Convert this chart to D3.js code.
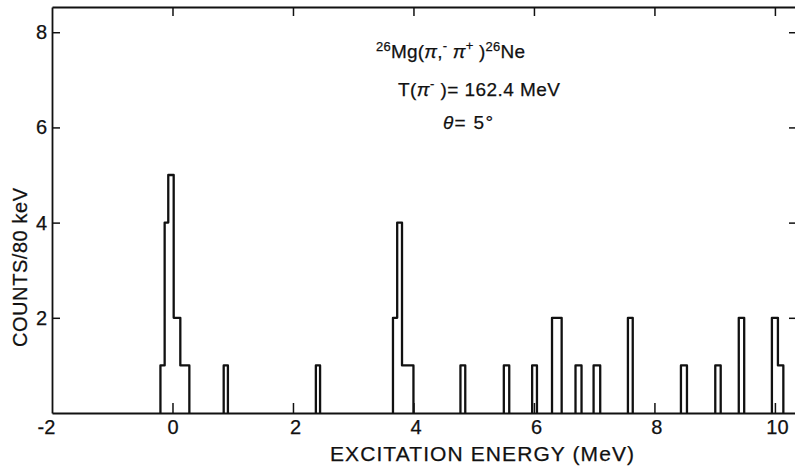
<!DOCTYPE html>
<html>
<head>
<meta charset="utf-8">
<script src="https://cdn.jsdelivr.net/npm/d3@7"></script>
<style>
  body { margin: 0; background: #fff; }
  text { font-family: "Liberation Sans", Arial, Helvetica, sans-serif; fill: #111; stroke: #111; stroke-width: 0.25px; }
</style>
</head>
<body>
<svg id="chart" width="795" height="468"></svg>
<script>
// 26Mg(pi-, pi+)26Ne spectrum: counts per bin, bins given by their edges (MeV)
const binEdges = [
  -0.20, -0.13, -0.07, 0.02, 0.13, 0.28,
  0.85, 0.92,
  2.38, 2.45,
  3.66, 3.73, 3.81, 4.00,
  4.78, 4.86,
  5.50, 5.59,
  5.97, 6.05,
  6.30, 6.46,
  6.69, 6.79,
  6.99, 7.10,
  7.56, 7.64,
  8.44, 8.54,
  9.01, 9.10,
  9.40, 9.49,
  9.95, 10.05, 10.14
];
const binCounts = [
  1, 4, 5, 2, 1, 0,
  1, 0,
  1, 0,
  2, 4, 1, 0,
  1, 0,
  1, 0,
  1, 0,
  2, 0,
  1, 0,
  1, 0,
  2, 0,
  1, 0,
  1, 0,
  2, 0,
  2, 1
];
const xTickValues = [-2, 0, 2, 4, 6, 8, 10];
const xTickLabels = ["-2", "0", "2", "4", "6", "8", "10"];
const yTickValues = [2, 4, 6, 8];
const xTitle = "EXCITATION ENERGY (MeV)";
const yTitle = "COUNTS/80 keV";

const svg = d3.select("#chart");
const x = d3.scaleLinear().domain([-2, 10.35]).range([52, 796]);
const y = d3.scaleLinear().domain([0, 8.53]).range([413, 7]);

// frame axes, ticks pointing inward
const gLeft = svg.append("g").attr("transform", `translate(${x(-2)},0)`)
  .call(d3.axisLeft(y).tickValues(yTickValues).tickSize(-8).tickSizeOuter(0).tickPadding(5));
const gBottom = svg.append("g").attr("transform", `translate(0,${y(0)})`)
  .call(d3.axisBottom(x).tickValues(xTickValues).tickSize(-10).tickSizeOuter(0).tickPadding(7)
    .tickFormat((d, i) => xTickLabels[i]));
const gTop = svg.append("g").attr("transform", `translate(0,${y(8.53)})`)
  .call(d3.axisTop(x).tickValues(xTickValues.slice(1)).tickSize(-9).tickSizeOuter(0).tickFormat(""));
const gRight = svg.append("g").attr("transform", `translate(${x(10.35)},0)`)
  .call(d3.axisRight(y).tickValues(yTickValues).tickSize(-7).tickSizeOuter(0).tickFormat(""));

[gLeft, gBottom, gTop, gRight].forEach(g => {
  g.select(".domain").attr("stroke", "#111").attr("stroke-width", 1.8);
  g.selectAll(".tick line").attr("stroke", "#111").attr("stroke-width", 1.5);
  g.selectAll(".tick text").attr("font-size", 20).attr("font-family", "Liberation Sans, Arial, sans-serif")
    .attr("fill", "#111").attr("stroke", "#111").attr("stroke-width", 0.35);
});
gBottom.selectAll(".tick").filter(d => d === -2).select("line").remove();
gBottom.selectAll(".tick").filter(d => d === -2).select("text").attr("dx", -6);
gBottom.selectAll(".tick").filter(d => d > 0).select("text").attr("dx", 2);

// histogram outline
const p = d3.path();
let open = false;
for (let i = 0; i < binCounts.length; i++) {
  const c = binCounts[i];
  const x0 = x(binEdges[i]), x1 = x(binEdges[i + 1]);
  if (c > 0 && !open) { p.moveTo(x0, y(0)); open = true; }
  if (open) { p.lineTo(x0, y(c)); p.lineTo(x1, y(c)); }
  if (open && (i === binCounts.length - 1 || binCounts[i + 1] === 0)) {
    p.lineTo(x1, y(0));
    open = false;
  }
}
svg.append("path")
  .attr("d", p.toString())
  .attr("fill", "none")
  .attr("stroke", "#111")
  .attr("stroke-width", 2.3)
  .attr("stroke-linejoin", "round");

// axis titles
svg.append("text")
  .attr("x", 330).attr("y", 461)
  .attr("font-size", 21)
  .attr("textLength", 304).attr("lengthAdjust", "spacing")
  .text(xTitle);
svg.append("text")
  .attr("transform", "translate(27,347) rotate(-90)")
  .attr("font-size", 20)
  .attr("textLength", 159).attr("lengthAdjust", "spacing")
  .text(yTitle);

// reaction annotation
const l1 = svg.append("text").attr("x", 376).attr("y", 58).attr("font-size", 19)
  .attr("textLength", 149).attr("lengthAdjust", "spacing");
l1.append("tspan").attr("font-size", 13).attr("dy", -7).text("26");
l1.append("tspan").attr("dy", 7).text("Mg(");
l1.append("tspan").attr("font-style", "italic").text("π");
l1.append("tspan").text(",");
l1.append("tspan").attr("font-size", 13).attr("dy", -8).text("-");
l1.append("tspan").attr("dy", 8).text(" ");
l1.append("tspan").attr("font-style", "italic").text("π");
l1.append("tspan").attr("font-size", 13).attr("dy", -8).text("+");
l1.append("tspan").attr("dy", 8).text(" )");
l1.append("tspan").attr("font-size", 13).attr("dy", -7).text("26");
l1.append("tspan").attr("dy", 7).text("Ne");

const l2 = svg.append("text").attr("x", 398).attr("y", 96).attr("font-size", 19)
  .attr("textLength", 162).attr("lengthAdjust", "spacing");
l2.append("tspan").text("T(");
l2.append("tspan").attr("font-style", "italic").text("π");
l2.append("tspan").attr("font-size", 13).attr("dy", -8).text("-");
l2.append("tspan").attr("dy", 8).text(" )= 162.4  MeV");

const l3 = svg.append("text").attr("x", 443).attr("y", 129).attr("font-size", 19)
  .attr("textLength", 50).attr("lengthAdjust", "spacing");
l3.append("tspan").attr("font-style", "italic").text("θ");
l3.append("tspan").text("= 5°");
</script>
</body>
</html>
